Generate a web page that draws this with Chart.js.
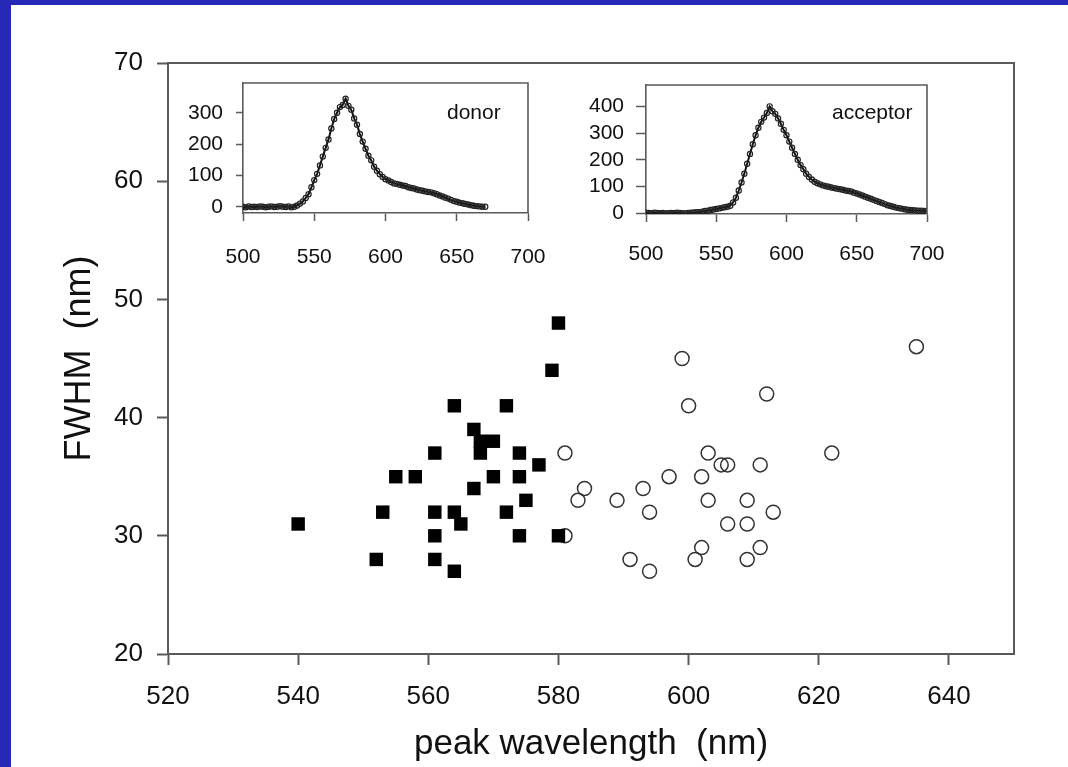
<!DOCTYPE html>
<html><head><meta charset="utf-8">
<script src="https://cdn.jsdelivr.net/npm/chart.js@4"></script>
<style>
html,body{margin:0;padding:0;}
body{width:1068px;height:767px;background:#2828b8;position:relative;overflow:hidden;}
#panel{position:absolute;left:11px;top:5px;width:1057px;height:762px;background:#fff;}
canvas{position:absolute;}
#main{left:0;top:0;}
#donor{left:170px;top:70px;}
#acceptor{left:570px;top:70px;}
</style></head><body>
<div id="panel"></div>
<canvas id="main" width="1068" height="767"></canvas>
<canvas id="donor" width="390" height="210"></canvas>
<canvas id="acceptor" width="400" height="210"></canvas>
<script>
// ---- main scatter data ----
const donorPeak = [540,552,553,555,558,561,561,561,561,564,564,564,565,567,567,568,570,568,570,572,572,574,574,574,575,577,579,580,580];
const donorFwhm = [31,28,32,35,35,37,32,30,28,41,32,27,31,39,34,38,38,37,35,41,32,37,35,30,33,36,44,48,30];
const acceptorPeak = [581,581,583,584,589,591,593,594,594,597,599,600,601,602,602,603,603,605,606,606,609,609,609,611,611,612,613,622,635];
const acceptorFwhm = [37,30,33,34,33,28,34,32,27,35,45,41,28,35,29,37,33,36,36,31,33,31,28,36,29,42,32,37,46];
const mainXTicks = [520,540,560,580,600,620,640];
const mainYTicks = [20,30,40,50,60,70];

// ---- inset spectra ----
const donorWl = [500,502,504,506,508,510,512,514,516,518,520,522,524,526,528,530,532,534,536,538,540,542,544,546,548,550,552,554,556,558,560,562,564,566,568,570,572,574,576,578,580,582,584,586,588,590,592,594,596,598,600,602,604,606,608,610,612,614,616,618,620,622,624,626,628,630,632,634,636,638,640,642,644,646,648,650,652,654,656,658,660,662,664,666,668,670];
const donorCounts = [0,-2,1,-1,0,-1,1,0,-2,0,1,-1,0,2,0,-1,1,-2,0,4,10,17,28,40,62,85,105,132,160,188,215,250,280,300,318,325,345,322,310,282,262,232,208,185,163,148,128,115,104,95,88,84,79,74,73,70,68,66,62,60,58,55,53,51,49,47,46,43,40,36,33,29,26,22,18,16,13,11,9,7,5,3,2,1,0,0];
const acceptorWl = [500,502,504,506,508,510,512,514,516,518,520,522,524,526,528,530,532,534,536,538,540,542,544,546,548,550,552,554,556,558,560,562,564,566,568,570,572,574,576,578,580,582,584,586,588,590,592,594,596,598,600,602,604,606,608,610,612,614,616,618,620,622,624,626,628,630,632,634,636,638,640,642,644,646,648,650,652,654,656,658,660,662,664,666,668,670,672,674,676,678,680,682,684,686,688,690,692,694,696,698,700];
const acceptorCounts = [2,1,0,2,1,0,1,-1,0,1,0,2,1,0,-1,1,2,3,4,4,6,8,9,12,14,16,18,20,22,24,28,40,58,85,115,148,185,222,258,292,320,342,358,375,400,382,372,355,335,312,292,268,245,222,200,180,165,148,136,126,118,112,108,104,101,99,96,94,92,90,88,85,83,81,77,74,70,66,62,58,54,50,46,42,38,34,30,27,24,21,19,17,15,13,12,11,10,9,9,8,8];
const insetXTicks = [500,550,600,650,700];
const donorYTicks = [0,100,200,300];
const acceptorYTicks = [0,100,200,300,400];

const FONT = "'Liberation Sans', Arial, Helvetica, sans-serif";
const AXIS = '#5a5a5a';
const TXT = '#111';

const boxPlugin = {
  id: 'box',
  afterDraw(chart, args, opts) {
    const {ctx, chartArea: a} = chart;
    ctx.save();
    ctx.strokeStyle = AXIS;
    ctx.lineWidth = opts.width || 2;
    ctx.beginPath();
    ctx.moveTo(a.left, a.top);
    ctx.lineTo(a.right, a.top);
    ctx.lineTo(a.right, a.bottom);
    ctx.stroke();
    if (opts.label) {
      ctx.fillStyle = TXT;
      ctx.font = opts.labelSize + 'px ' + FONT;
      ctx.textBaseline = 'middle';
      ctx.textAlign = 'left';
      ctx.fillText(opts.label, opts.labelX, opts.labelY);
    }
    ctx.restore();
  }
};

const toPts = (xs, ys) => xs.map((x, i) => ({x: x, y: ys[i]}));
const fixedTicks = arr => s => { s.ticks = arr.map(v => ({value: v})); };
const noPad = s => { s.paddingTop = 0; s.paddingBottom = 0; s.paddingLeft = 0; s.paddingRight = 0; };

new Chart(document.getElementById('main'), {
  type: 'scatter',
  data: {datasets: [
    {label: 'donor', data: toPts(donorPeak, donorFwhm), pointStyle: 'rect', pointRadius: 9.5, backgroundColor: '#000', borderColor: '#000', borderWidth: 0},
    {label: 'acceptor', data: toPts(acceptorPeak, acceptorFwhm), pointStyle: 'circle', pointRadius: 7, backgroundColor: 'rgba(255,255,255,0)', borderColor: '#333', borderWidth: 1.5}
  ]},
  options: {
    responsive: false, animation: false, events: [],
    layout: {padding: {left: 0, top: 63, right: 54, bottom: 0}},
    plugins: {legend: {display: false}, tooltip: {enabled: false}, box: {width: 2}},
    scales: {
      x: {
        type: 'linear', min: 520, max: 650,
        afterBuildTicks: fixedTicks(mainXTicks),
        afterFit: s => { s.height = 113; noPad(s); },
        grid: {drawOnChartArea: false, tickLength: 11, tickColor: AXIS, tickWidth: 2},
        border: {color: AXIS, width: 2},
        ticks: {font: {family: FONT, size: 26}, color: TXT, padding: 16, maxRotation: 0},
        title: {display: true, text: 'peak wavelength  (nm)', font: {family: FONT, size: 35}, color: TXT, padding: {top: 0, bottom: 2}}
      },
      y: {
        type: 'linear', min: 20, max: 70,
        afterBuildTicks: fixedTicks(mainYTicks),
        afterFit: s => { s.width = 168; noPad(s); },
        grid: {drawOnChartArea: false, tickLength: 11, tickColor: AXIS, tickWidth: 2},
        border: {color: AXIS, width: 2},
        ticks: {font: {family: FONT, size: 26}, color: TXT, padding: 14},
        title: {display: true, text: 'FWHM  (nm)', font: {family: FONT, size: 36}, color: TXT, padding: {top: 58, bottom: 0}}
      }
    }
  },
  plugins: [boxPlugin]
});

function inset(id, wl, counts, yTicks, ymin, ymax, pad, yw, xh, xpad, ypad, tl, label, lx, ly) {
  new Chart(document.getElementById(id), {
    type: 'scatter',
    data: {datasets: [{
      data: toPts(wl, counts), showLine: true, borderColor: '#111', borderWidth: 2,
      pointStyle: 'circle', pointRadius: 2.6, pointBorderWidth: 1.2, pointBorderColor: '#222', pointBackgroundColor: 'rgba(255,255,255,0)'
    }]},
    options: {
      responsive: false, animation: false, events: [],
      layout: {padding: pad},
      plugins: {legend: {display: false}, tooltip: {enabled: false}, box: {width: 1.6, label: label, labelX: lx, labelY: ly, labelSize: 21}},
      scales: {
        x: {
          type: 'linear', min: 500, max: 700,
          afterBuildTicks: fixedTicks(insetXTicks),
          afterFit: s => { s.height = xh; noPad(s); },
          grid: {drawOnChartArea: false, tickLength: 8, tickColor: AXIS, tickWidth: 1.5},
          border: {color: AXIS, width: 1.6},
          ticks: {font: {family: FONT, size: 21}, color: TXT, padding: xpad, maxRotation: 0}
        },
        y: {
          type: 'linear', min: ymin, max: ymax,
          afterBuildTicks: fixedTicks(yTicks),
          afterFit: s => { s.width = yw; noPad(s); },
          grid: {drawOnChartArea: false, tickLength: tl, tickColor: AXIS, tickWidth: 1.5},
          border: {color: AXIS, width: 1.6},
          ticks: {font: {family: FONT, size: 21}, color: TXT, padding: ypad}
        }
      }
    },
    plugins: [boxPlugin]
  });
}

inset('donor', donorWl, donorCounts, donorYTicks, -20, 395, {left: 0, top: 13, right: 32, bottom: 0}, 73, 67, 24, 13, 7, 'donor', 277, 43);
inset('acceptor', acceptorWl, acceptorCounts, acceptorYTicks, -3, 480, {left: 0, top: 15, right: 43, bottom: 0}, 76, 66, 20, 12, 10, 'acceptor', 262, 43);
</script>
</body></html>
